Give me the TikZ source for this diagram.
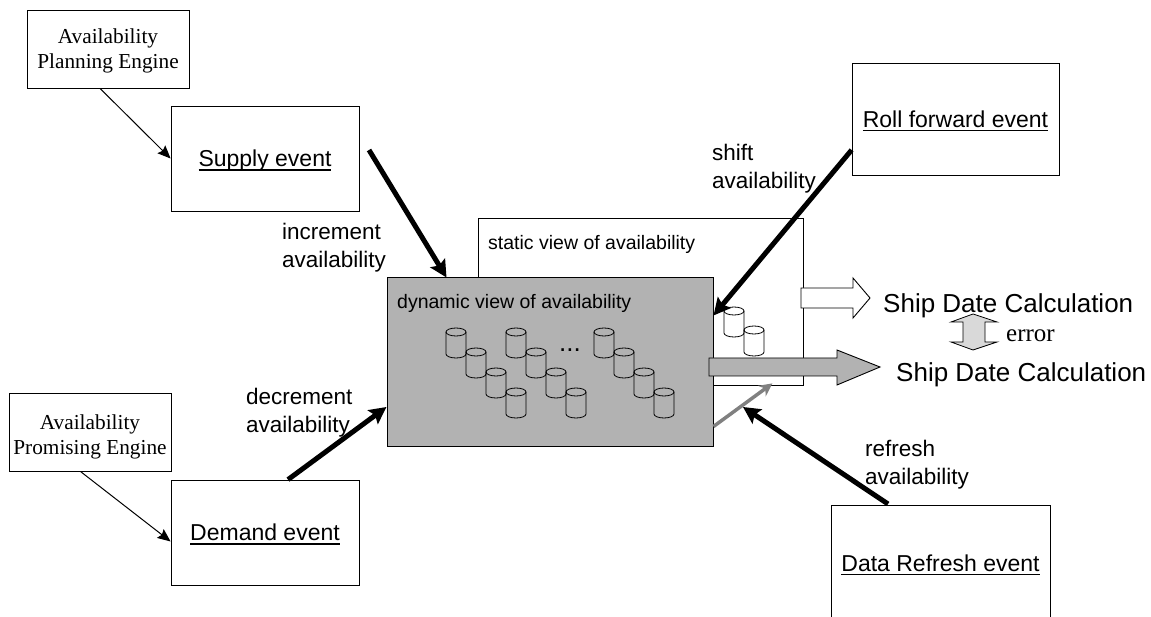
\documentclass[tikz,border=0pt]{standalone}
\usepackage{fontspec}
\setmainfont{Liberation Sans}
\newfontfamily\timesface{Liberation Serif}
\newcommand{\dropby}[2]{\raisebox{-#1}[\height][\depth]{#2}}
\newcommand{\evtline}[1]{\setbox0=\hbox{#1}\dropby{2pt}{\rlap{\vrule width\wd0 height -2.6pt depth 4.2pt}\box0}}
\usetikzlibrary{arrows.meta}
\begin{document}
\begin{tikzpicture}[
        x=1pt, y=-1pt,
        evtbox/.style={draw, line width=0.8pt, minimum width=188pt, minimum height=105pt, inner sep=0pt, font=\fontsize{23}{27}\selectfont},
        engbox/.style={draw, line width=0.8pt, minimum width=162pt, minimum height=78pt, inner sep=0pt, align=center, font=\timesface\fontsize{21.3}{25}\selectfont},
        lbl/.style={anchor=west, inner sep=0pt, align=left, font=\fontsize{22.5}{28}\selectfont},
        viewlbl/.style={anchor=west, inner sep=0pt, font=\fontsize{19.5}{24}\selectfont},
        shiplbl/.style={anchor=west, inner sep=0pt, font=\fontsize{26}{30}\selectfont},
        dbcyl/.pic={
            \draw[line width=0.8pt] (0,-11) ellipse [x radius=10, y radius=4];
            \draw[line width=0.8pt] (-10,-11) -- (-10,11) arc [start angle=180, end angle=0, x radius=10, y radius=4] -- (10,-11);
        },
        thin arrow/.style={-{Stealth[length=13pt,width=11pt,inset=2pt]}, line width=1pt},
        heavy/.style={-{Stealth[length=17pt,width=17pt,inset=3pt]}, line width=5pt},
        block/.style={draw, line width=0.9pt, line join=miter},
    ]
    \useasboundingbox (0,0) rectangle (1151,617);

    % views
    \node[draw, line width=0.8pt, minimum width=325pt, minimum height=167pt, inner sep=0pt] (static) at (640.5,301.5) {};
    \draw[block, fill=white] (801,288) -- (853,288) -- (853,278) -- (870,298) -- (853,318) -- (853,308) -- (801,308) -- cycle;
    \node[draw, line width=1pt, fill=gray!60, minimum width=326pt, minimum height=168pt, inner sep=0pt] (dyn) at (550,362) {};
    \node[viewlbl] (staticlbl) at (488,244) {static view of availability};
    \node[viewlbl] (dynlbl) at (397,303) {dynamic view of availability};

    % engines and events
    \node[engbox] (plan) at (108,49) {\dropby{2pt}{Availability}\\\dropby{2pt}{Planning Engine}};
    \node[engbox] (prom) at (90,432.5) {\dropby{4pt}{Availability}\\\dropby{4pt}{Promising Engine}};
    \node[evtbox] (supply) at (265,158.5) {\evtline{Supply event}};
    \node[evtbox] (demand) at (265,532.5) {\evtline{Demand event}};
    \node[evtbox, minimum width=207pt, minimum height=112pt] (roll) at (955.5,119) {\evtline{Roll forward event}};
    \node[evtbox, minimum width=219pt, minimum height=116pt] (refresh) at (940.5,563) {\evtline{Data Refresh event}};

    % cylinders
    \foreach \gx in {456,516,604}{
        \foreach \k in {0,...,3}{
            \pic (db\gx\k) at ({\gx+20*\k},{343+20*\k}) {dbcyl};
        }
    }
    \pic (dbs1) at (734,322) {dbcyl};
    \pic (dbs2) at (754,341) {dbcyl};
    \node[anchor=base, inner sep=0pt, font=\fontsize{26}{30}\selectfont] (dots) at (570,352) {...};

    % labels
    \node[lbl] (inc) at (282,248) {increment\\availability};
    \node[lbl] (dec) at (246,413) {decrement\\availability};
    \node[lbl] (shift) at (712,169) {shift\\availability};
    \node[lbl] (refr) at (865,465) {refresh\\availability};
    \node[shiplbl] (ship1) at (883,306) {Ship Date Calculation};
    \node[shiplbl] (ship2) at (896,375) {Ship Date Calculation};
    \node[anchor=west, inner sep=0pt, font=\timesface\fontsize{25}{30}\selectfont] (err) at (1006,336) {error};

    % block arrows
    \draw[block, fill=gray!60] (709,358) -- (837,358) -- (837,350) -- (880,367) -- (837,385) -- (837,376) -- (709,376) -- cycle;
    \draw[draw=black, line width=0.8pt, fill=gray!30] (973,314) -- (997,322) -- (985,322) -- (985,342) -- (997,342) -- (973,350) -- (951,342) -- (963,342) -- (963,322) -- (951,322) -- cycle;

    % connectors
    \coordinate (supplyout) at (369,150);
    \coordinate (refreshout) at (888,504);
    \coordinate (refreshin) at (743,407);
    \draw[thin arrow] ([xshift=-8pt]plan.south) -- (supply.west);
    \draw[thin arrow] ([xshift=-9pt]prom.south) -- ([yshift=-9pt]demand.west);
    \draw[heavy] (supplyout) -- ([xshift=60pt]dyn.north west);
    \draw[heavy] ([xshift=23pt]demand.north) -- ([yshift=-45pt]dyn.west);
    \draw[heavy] ([yshift=-31pt]roll.west) -- ([yshift=-38pt]dyn.north east);
    \draw[heavy] (refreshout) -- (refreshin);
    \draw[-{Stealth[length=13pt,width=13pt]}, line width=3.5pt, gray] ([yshift=20pt]dyn.south east) -- ([xshift=-31pt,yshift=2pt]static.south east);
\end{tikzpicture}
\end{document}
